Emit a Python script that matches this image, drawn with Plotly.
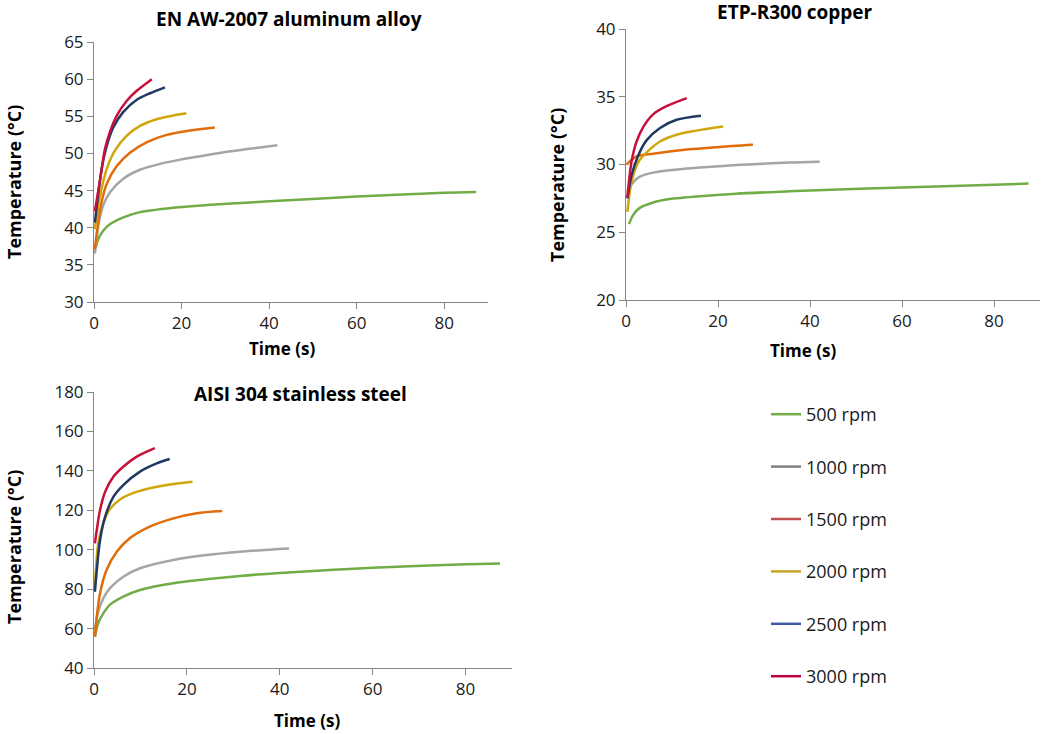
import plotly.graph_objects as go

W, H = 1041, 734

speeds = ["500 rpm", "1000 rpm", "1500 rpm", "2000 rpm", "2500 rpm", "3000 rpm"]
line_colors = ["#70AD47", "#A5A5A5", "#E26B0A", "#CFA60C", "#203864", "#C8103C"]
legend_colors = ["#70AD47", "#7F7F7F", "#C0504D", "#C9A227", "#3C5DA6", "#C0003C"]

# ---- EN AW-2007 aluminum alloy ----
al_t_500 = [0.4, 1.0, 2.1, 3.7, 6.7, 10.5, 18.1, 25.7, 35.6, 40, 60, 80, 87.3]
al_T_500 = [37.3, 38.5, 39.6, 40.5, 41.4, 42.1, 42.7, 43.05, 43.4, 43.55, 44.2, 44.7, 44.8]
al_t_1000 = [0.2, 1.0, 2.1, 3.7, 6.7, 10.5, 15.8, 20, 24, 30, 35, 41.9]
al_T_1000 = [36.5, 40.3, 43.0, 44.8, 46.6, 47.8, 48.7, 49.2, 49.6, 50.2, 50.6, 51.1]
al_t_1500 = [0.2, 1.4, 2.9, 5.2, 8.2, 12.0, 16.6, 21.9, 27.6]
al_T_1500 = [37.1, 42.5, 45.9, 48.3, 50.1, 51.5, 52.5, 53.1, 53.5]
al_t_2000 = [0.2, 1.4, 2.9, 4.8, 7.5, 10.5, 14.3, 18.1, 21.1]
al_T_2000 = [39.8, 44.3, 47.9, 50.4, 52.4, 53.7, 54.6, 55.1, 55.4]
al_t_2500 = [0.2, 1.75, 2.9, 4.4, 6.7, 9.7, 12.8, 16.2]
al_T_2500 = [40.7, 47.9, 51.0, 53.5, 55.6, 57.2, 58.1, 58.9]
al_t_3000 = [0.2, 1.4, 2.5, 3.7, 5.2, 7.5, 9.7, 13.2]
al_T_3000 = [42.2, 46.5, 50.6, 53.0, 55.1, 57.1, 58.4, 60.0]

# ---- ETP-R300 copper ----
cu_t_500 = [0.65, 1.6, 3.0, 5.9, 9.5, 16.8, 24, 35.6, 40, 60, 80, 87.5]
cu_T_500 = [25.6, 26.3, 26.8, 27.2, 27.45, 27.68, 27.85, 28.02, 28.08, 28.3, 28.5, 28.6]
cu_t_1000 = [0.3, 1.6, 3.0, 5.9, 13.2, 20.4, 27.6, 35.6, 42.1]
cu_T_1000 = [28.0, 28.7, 29.1, 29.4, 29.7, 29.88, 30.02, 30.14, 30.2]
cu_t_1500 = [0.1, 2.3, 5.9, 13.2, 20.4, 27.6]
cu_T_1500 = [30.0, 30.6, 30.8, 31.1, 31.3, 31.45]
cu_t_2000 = [0.3, 1.2, 2.7, 4.5, 7.4, 11.0, 15.3, 21.1]
cu_T_2000 = [26.5, 28.7, 30.2, 30.9, 31.7, 32.2, 32.5, 32.8]
cu_t_2500 = [0.3, 1.2, 2.7, 4.5, 7.4, 11.0, 16.3]
cu_T_2500 = [27.5, 29.2, 30.7, 31.8, 32.7, 33.3, 33.6]
cu_t_3000 = [0.3, 1.2, 2.3, 3.8, 5.9, 8.8, 13.2]
cu_T_3000 = [27.6, 30.2, 31.7, 32.8, 33.7, 34.3, 34.9]

# ---- AISI 304 stainless steel ----
ss_t_500 = [0.2, 0.9, 2.0, 3.4, 6.3, 9.9, 17.1, 24.2, 31.4, 40, 60, 80, 87.4]
ss_T_500 = [55.9, 62.7, 67.7, 72.0, 76.2, 79.6, 83.0, 85.0, 86.7, 88.2, 90.8, 92.6, 93.0]
ss_t_1000 = [0.2, 0.9, 2.0, 3.4, 6.3, 9.9, 17.1, 24.2, 31.4, 42]
ss_T_1000 = [59.3, 68.6, 75.3, 80.4, 86.3, 90.6, 94.8, 97.3, 99.0, 100.6]
ss_t_1500 = [0.2, 0.6, 1.3, 2.7, 4.9, 7.7, 12.0, 17.1, 22.1, 27.6]
ss_T_1500 = [55.9, 66.0, 77.9, 89.7, 99.0, 105.8, 111.7, 115.9, 118.5, 119.6]
ss_t_2000 = [0.2, 0.9, 2.0, 3.4, 5.6, 8.5, 12.0, 16.0, 21.2]
ss_T_2000 = [81.4, 103.0, 113.4, 120.5, 125.5, 128.8, 131.2, 133.0, 134.5]
ss_t_2500 = [0.2, 0.6, 1.3, 2.4, 4.2, 6.3, 9.9, 13.5, 16.3]
ss_T_2500 = [78.7, 89.7, 104.9, 116.8, 126.9, 132.8, 139.6, 143.8, 146.0]
ss_t_3000 = [0.2, 0.6, 1.3, 2.4, 4.2, 6.3, 9.2, 13.1]
ss_T_3000 = [103.2, 110.0, 120.1, 129.4, 137.1, 142.1, 147.2, 151.5]

x_ticks = [0, 20, 40, 60, 80]

panels = [
    ("x", "y", [(al_t_500, al_T_500), (al_t_1000, al_T_1000), (al_t_1500, al_T_1500),
                (al_t_2000, al_T_2000), (al_t_2500, al_T_2500), (al_t_3000, al_T_3000)]),
    ("x2", "y2", [(cu_t_500, cu_T_500), (cu_t_1000, cu_T_1000), (cu_t_1500, cu_T_1500),
                  (cu_t_2000, cu_T_2000), (cu_t_2500, cu_T_2500), (cu_t_3000, cu_T_3000)]),
    ("x3", "y3", [(ss_t_500, ss_T_500), (ss_t_1000, ss_T_1000), (ss_t_1500, ss_T_1500),
                  (ss_t_2000, ss_T_2000), (ss_t_2500, ss_T_2500), (ss_t_3000, ss_T_3000)]),
]

fig = go.Figure()
for xa, ya, series in panels:
    for i, (t, T) in enumerate(series):
        fig.add_trace(go.Scatter(x=t, y=T, mode="lines", xaxis=xa, yaxis=ya,
                                 line=dict(color=line_colors[i], width=2.5, shape="spline", smoothing=0.8),
                                 showlegend=False, hoverinfo="x+y", name=speeds[i]))

for i, s in enumerate(speeds):
    fig.add_trace(go.Scatter(x=[None], y=[None], mode="lines", xaxis="x", yaxis="y",
                             line=dict(color=legend_colors[i], width=2.5), name=s,
                             legendgroup=s, showlegend=True))


def px(x):
    return x / W


def py(y):
    return 1 - y / H


FONT = "Open Sans"
TICKFONT = dict(family=FONT, size=17, color="#1a1a1a")
axis_common = dict(showline=True, linecolor="#868686", linewidth=1, ticks="outside", ticklen=6,
                   tickcolor="#868686", showgrid=False, zeroline=False, tickfont=TICKFONT,
                   automargin=False)

fig.update_layout(
    width=W, height=H,
    margin=dict(l=0, r=0, t=0, b=0, autoexpand=False),
    paper_bgcolor="white", plot_bgcolor="white",
    font=dict(family=FONT, color="#1a1a1a"),
    xaxis=dict(domain=[px(94), px(488)], range=[0, 90], tickvals=x_ticks, anchor="y", **axis_common),
    yaxis=dict(domain=[py(302), py(42)], range=[30, 65], dtick=5, anchor="x", **axis_common),
    xaxis2=dict(domain=[px(626), px(1040)], range=[0, 90], tickvals=x_ticks, anchor="y2", **axis_common),
    yaxis2=dict(domain=[py(300), py(29)], range=[20, 40], dtick=5, anchor="x2", **axis_common),
    xaxis3=dict(domain=[px(94), px(512)], range=[0, 90], tickvals=x_ticks, anchor="y3", **axis_common),
    yaxis3=dict(domain=[py(668), py(392)], range=[40, 180], dtick=20, anchor="x3", **axis_common),
    legend=dict(x=px(766), y=py(396), xanchor="left", yanchor="top", tracegroupgap=26,
                font=dict(family=FONT, size=18, color="#1a1a1a"), bgcolor="rgba(0,0,0,0)",
                itemwidth=30),
    showlegend=True,
)

ann = []


def text(x, y, s, size, angle=0):
    ann.append(dict(x=px(x), y=py(y), xref="paper", yref="paper", text="<b>" + s + "</b>",
                    showarrow=False, xanchor="center", yanchor="middle", textangle=angle,
                    font=dict(family=FONT, size=size, color="#000000")))


text(289, 19, "EN AW-2007 aluminum alloy", 19)
text(795, 12, "ETP-R300 copper", 19)
text(300, 394, "AISI 304 stainless steel", 19)
text(282, 348, "Time (s)", 17)
text(803, 350, "Time (s)", 17)
text(307, 720, "Time (s)", 17)
text(14, 182, "Temperature (°C)", 18, -90)
text(557, 185, "Temperature (°C)", 18, -90)
text(14, 547, "Temperature (°C)", 18, -90)
fig.update_layout(annotations=ann)

fig.write_html("out.html", config={"displayModeBar": False},
               post_script="document.body.style.margin='0';document.body.style.overflow='hidden';")
